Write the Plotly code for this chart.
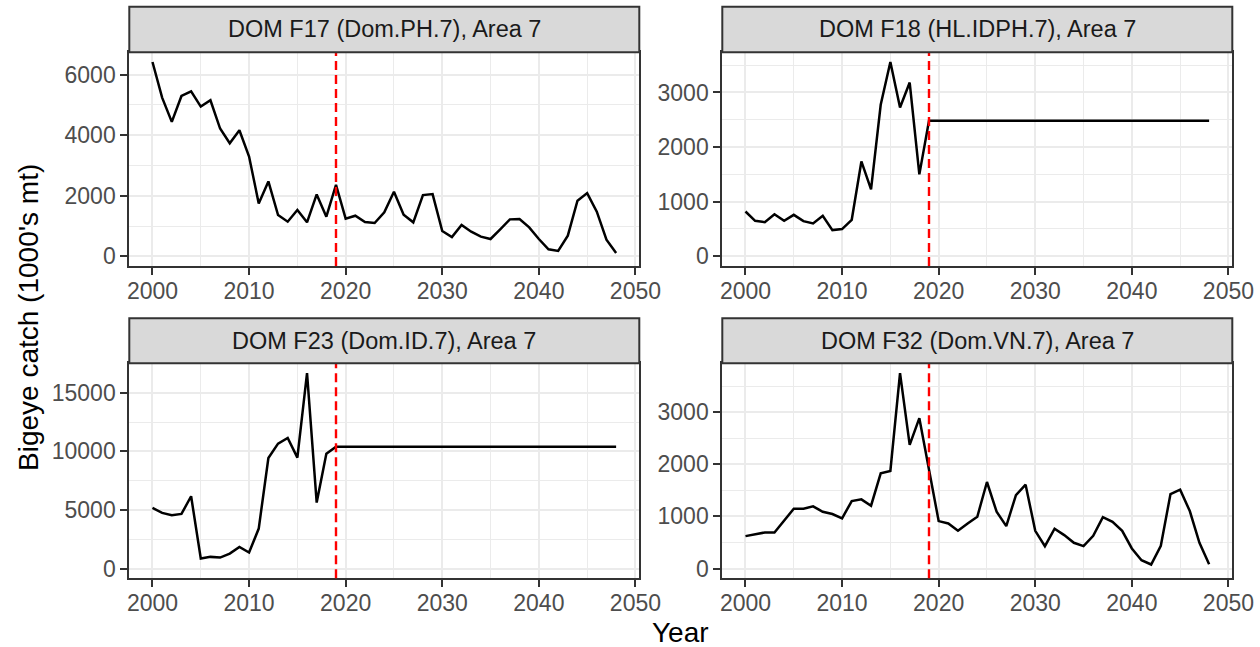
import plotly.graph_objects as go

years = list(range(2000, 2049))

f17 = [6418, 5242, 4440, 5297, 5451, 4945, 5154, 4220, 3736, 4165,
       3297, 1747, 2473, 1363, 1143, 1527, 1121, 2044, 1308, 2363,
       1242, 1341, 1132, 1099, 1451, 2132, 1374, 1121, 2022, 2055,
       835, 637, 1033, 813, 648, 571, 890, 1220, 1231, 956,
       571, 231, 176, 681, 1835, 2088, 1473, 549, 110]

f18 = [820, 650, 625, 771, 650, 759, 644, 601, 741, 480,
       498, 668, 1737, 1226, 2775, 3558, 2726, 3182, 1500, 2480,
       2480, 2480, 2480, 2480, 2480, 2480, 2480, 2480, 2480, 2480,
       2480, 2480, 2480, 2480, 2480, 2480, 2480, 2480, 2480, 2480,
       2480, 2480, 2480, 2480, 2480, 2480, 2480, 2480, 2480]

f23 = [5170, 4744, 4545, 4659, 6165, 852, 994, 937, 1278, 1847,
       1364, 3409, 9432, 10653, 11136, 9460, 16676, 5625, 9801, 10400,
       10400, 10400, 10400, 10400, 10400, 10400, 10400, 10400, 10400, 10400,
       10400, 10400, 10400, 10400, 10400, 10400, 10400, 10400, 10400, 10400,
       10400, 10400, 10400, 10400, 10400, 10400, 10400, 10400, 10400]

f32 = [622, 654, 692, 692, 917, 1147, 1147, 1192, 1090, 1045,
       962, 1295, 1327, 1205, 1827, 1872, 3750, 2372, 2885, 1900,
       910, 865, 724, 865, 994, 1660, 1090, 814, 1410, 1609,
       724, 429, 763, 641, 494, 429, 628, 987, 897, 724,
       385, 160, 77, 436, 1429, 1513, 1103, 494, 83]

panel_titles = ["DOM F17 (Dom.PH.7), Area 7", "DOM F18 (HL.IDPH.7), Area 7",
                "DOM F23 (Dom.ID.7), Area 7", "DOM F32 (Dom.VN.7), Area 7"]
series = [f17, f18, f23, f32]
y_dticks = [2000, 1000, 5000, 1000]
x_ticks = [2000, 2010, 2020, 2030, 2040, 2050]
vline_year = 2019
x_title = "Year"
y_title = "Bigeye catch (1000's mt)"

W, H = 1260, 647
FONT = "Liberation Sans, Arial, sans-serif"

# panel geometry in pixels
xcols = [(129.3, 639.3), (722.3, 1232.3)]
rows = [((52.3, 266.0), (6.7, 52.3)), ((363.3, 578.3), (318.3, 363.3))]

def px(x):
    return x / W

def py(y):
    return 1 - y / H

fig = go.Figure()
layout = dict(
    width=W, height=H,
    margin=dict(l=0, r=0, t=0, b=0, pad=0),
    paper_bgcolor="white", plot_bgcolor="white",
    showlegend=False,
    font=dict(family=FONT, size=23, color="#4D4D4D"),
)
shapes = []
annotations = []

for i in range(4):
    r, c = divmod(i, 2)
    (py0, py1), (sy0, sy1) = rows[r]
    x0, x1 = xcols[c]
    idx = "" if i == 0 else str(i + 1)
    xa, ya = "x" + idx, "y" + idx
    fig.add_trace(go.Scatter(x=years, y=series[i], mode="lines",
                             line=dict(color="black", width=2.5),
                             xaxis=xa, yaxis=ya, hoverinfo="skip"))
    ymax = max(series[i])
    xmin, xmax = min(years), max(years)
    xpad = 0.05 * (xmax - xmin)
    common = dict(showline=True, mirror=True, linecolor="#333333", linewidth=2,
                  ticks="outside", ticklen=7, tickwidth=1.8, tickcolor="#333333",
                  showgrid=True, gridcolor="#EBEBEB", gridwidth=1.8, zeroline=False,
                  automargin=False, tickformat="d",
                  tickfont=dict(family=FONT, size=23, color="#4D4D4D"))
    layout["xaxis" + idx] = dict(
        common, domain=[px(x0), px(x1)], anchor=ya,
        range=[xmin - xpad, xmax + xpad], tickvals=x_ticks, ticklabelstandoff=-4,
        minor=dict(dtick=5, tick0=2005, showgrid=True, gridcolor="#EBEBEB", gridwidth=0.9, ticks=""))
    d = y_dticks[i]
    layout["yaxis" + idx] = dict(
        common, domain=[py(py1), py(py0)], anchor=xa,
        range=[-0.05 * ymax, 1.05 * ymax], tick0=0, dtick=d,
        minor=dict(dtick=d / 2, tick0=0, showgrid=True, gridcolor="#EBEBEB", gridwidth=0.9, ticks=""))
    # dashed vertical line
    shapes.append(dict(type="line", xref=xa, yref=ya + " domain",
                       x0=vline_year, x1=vline_year, y0=0, y1=1,
                       line=dict(color="#FF0000", width=2.4, dash="9px,5px")))
    # strip
    shapes.append(dict(type="rect", xref="paper", yref="paper",
                       x0=px(x0), x1=px(x1), y0=py(sy1), y1=py(sy0),
                       fillcolor="#D9D9D9", line=dict(color="#333333", width=2)))
    annotations.append(dict(text=panel_titles[i], xref="paper", yref="paper",
                            x=px((x0 + x1) / 2), y=py((sy0 + sy1) / 2),
                            xanchor="center", yanchor="middle", showarrow=False,
                            font=dict(family=FONT, size=23.5, color="#1A1A1A")))

annotations.append(dict(text=x_title, xref="paper", yref="paper",
                        x=px(680.8), y=py(632), xanchor="center", yanchor="middle",
                        showarrow=False, font=dict(family=FONT, size=28, color="black")))
annotations.append(dict(text=y_title, xref="paper", yref="paper",
                        x=px(28), y=py(318), xanchor="center", yanchor="middle",
                        textangle=-90, showarrow=False,
                        font=dict(family=FONT, size=28, color="black")))

layout["shapes"] = shapes
layout["annotations"] = annotations
fig.update_layout(**layout)
fig.write_html("out.html", config={"displayModeBar": False},
               post_script="document.body.style.margin='0px';")
